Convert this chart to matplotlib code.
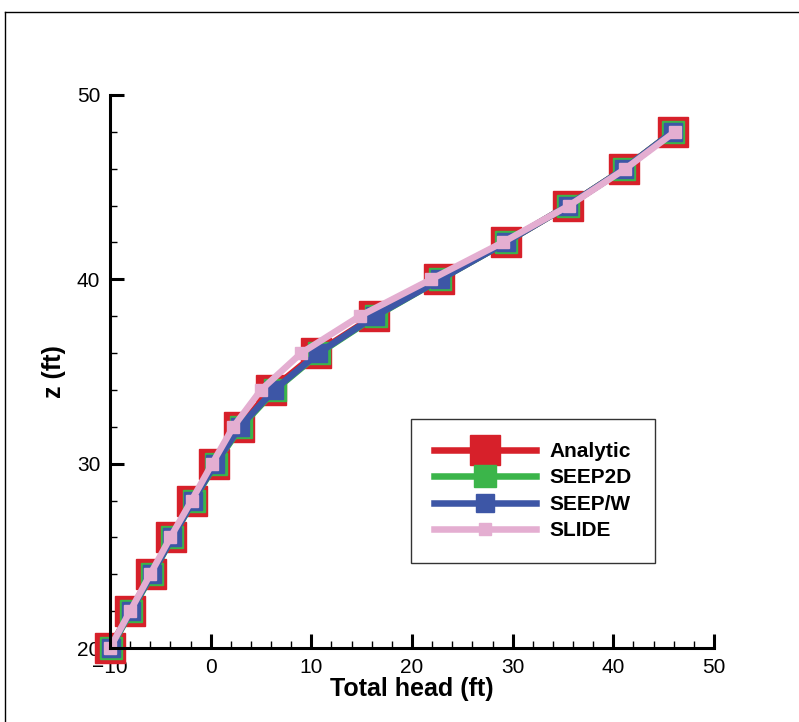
import matplotlib
matplotlib.use("Agg")
import matplotlib.pyplot as plt
from matplotlib.ticker import MultipleLocator
from matplotlib.lines import Line2D

plt.rcParams['font.family'] = ['Liberation Sans', 'DejaVu Sans']

z = [20, 22, 24, 26, 28, 30, 32, 34, 36, 38, 40, 42, 44, 46, 48]
analytic = [-10.0, -8.0, -5.9, -3.9, -1.85, 0.35, 2.8, 6.0, 10.5, 16.2, 22.7, 29.3, 35.5, 41.1, 45.9]
seep2d = [-9.9, -7.9, -5.8, -3.8, -1.7, 0.5, 3.0, 6.4, 10.8, 16.4, 22.8, 29.3, 35.5, 41.1, 45.9]
seepw = [-9.95, -7.95, -5.85, -3.8, -1.75, 0.45, 2.9, 6.3, 10.7, 16.3, 22.8, 29.3, 35.5, 41.1, 45.9]
slide = [-10.0, -8.0, -6.0, -4.0, -1.9, 0.15, 2.25, 5.0, 9.0, 14.8, 21.9, 29.0, 35.6, 41.2, 46.1]

names = ["Analytic", "SEEP2D", "SEEP/W", "SLIDE"]
colors = ['#D7202A', '#3BB54A', '#3D56A6', '#E4AED1']
msizes = [21, 16.5, 13, 8.6]

fig = plt.figure(figsize=(7.99, 7.22), dpi=100)
ax = fig.add_axes([110/799, 1-648/722, 604/799, 553/722])

for xs, name, c, ms in zip([analytic, seep2d, seepw, slide], names, colors, msizes):
    ax.plot(xs, z, color=c, lw=4.7, marker='s', ms=ms, mec=c, mfc=c,
            label=name, clip_on=False)

ax.set_xlim(-10, 50)
ax.set_ylim(20, 50)
ax.xaxis.set_major_locator(MultipleLocator(10))
ax.xaxis.set_minor_locator(MultipleLocator(2))
ax.yaxis.set_major_locator(MultipleLocator(10))
ax.yaxis.set_minor_locator(MultipleLocator(2))
for s in ['top', 'right']:
    ax.spines[s].set_visible(False)
for s in ['left', 'bottom']:
    ax.spines[s].set_linewidth(2.2)
ax.tick_params(which='major', direction='in', length=10, width=2.2, labelsize=15)
ax.tick_params(axis='x', which='major', pad=7)
ax.tick_params(axis='y', which='major', pad=7)
ax.tick_params(which='minor', direction='in', length=5, width=1)

ax.set_xlabel('Total head (ft)', fontsize=18, fontweight='bold', labelpad=0)
ax.set_ylabel('z (ft)', fontsize=18, fontweight='bold', labelpad=8)

leg = ax.legend(loc='upper left', bbox_to_anchor=(0.498, 0.414), borderaxespad=0,
                prop={'weight': 'bold', 'size': 15}, handlelength=4.9,
                handletextpad=0.67, labelspacing=0.36, borderpad=1.1,
                fancybox=False, edgecolor='#333333', framealpha=1)
leg.get_frame().set_linewidth(1.0)

fig.add_artist(Line2D([5/799, 5/799], [0, 1-12/722], transform=fig.transFigure, color='black', lw=1))
fig.add_artist(Line2D([5/799, 1], [1-12/722, 1-12/722], transform=fig.transFigure, color='black', lw=1))

fig.savefig('out.png', dpi=100)
